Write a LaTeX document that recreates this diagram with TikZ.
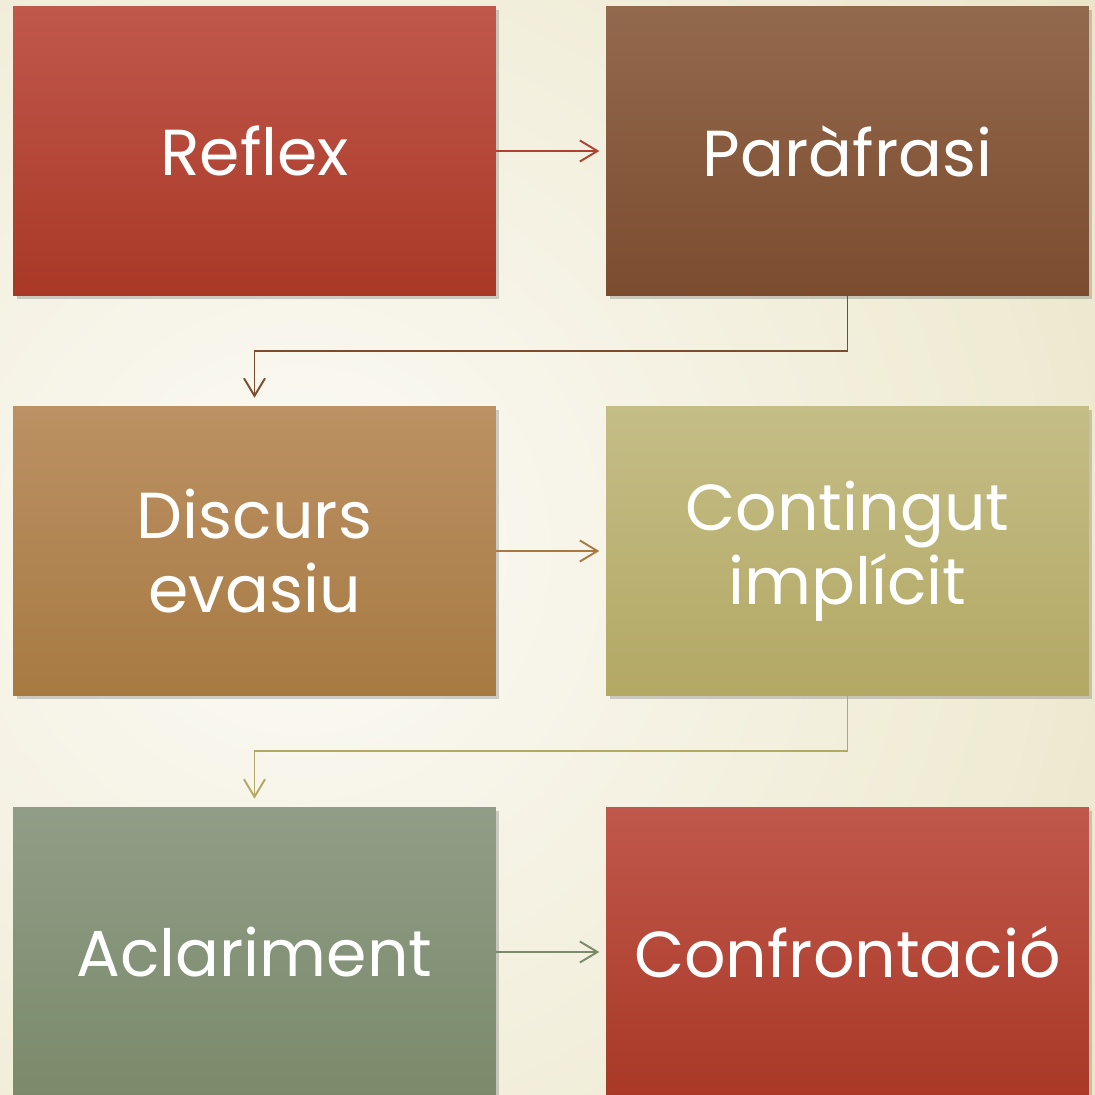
\documentclass[tikz,border=0pt]{standalone}
\usepackage{fontspec}
\setmainfont{Poppins}
\usetikzlibrary{arrows.meta,shadows}

\definecolor{reflexTop}{HTML}{C0584C}
\definecolor{reflexBot}{HTML}{A93826}
\definecolor{paraTop}{HTML}{93694E}
\definecolor{paraBot}{HTML}{7C4C2E}
\definecolor{discTop}{HTML}{BC9163}
\definecolor{discBot}{HTML}{A77A42}
\definecolor{contTop}{HTML}{C4BD86}
\definecolor{contBot}{HTML}{B3A864}
\definecolor{aclTop}{HTML}{909E87}
\definecolor{aclBot}{HTML}{7A8A6A}
\definecolor{bgIn}{HTML}{FCFBF6}
\definecolor{bgOut}{HTML}{EAE5C8}

\begin{document}
\begin{tikzpicture}[x=0.02cm, y=-0.02cm,
  box/.style 2 args={rectangle, minimum width=9.66cm, minimum height=5.8cm,
                     top color=#1, bottom color=#2, draw=none,
                     text=white, align=center,
                     font=\fontsize{37}{42}\selectfont,
                     drop shadow={shadow xshift=2pt, shadow yshift=-2pt,
                                  opacity=0.25, fill=black!70}},
  arr/.style={-{Straight Barb[length=10pt, width=12pt, line width=1.1pt]},
              line width=1.1pt}
]
  % fons
  \useasboundingbox (0,0) rectangle (1095,1095);
  \clip (0,0) rectangle (1095,1095);
  \shade[inner color=bgIn, outer color=bgOut] (300,550) circle (1000);
  % caixes
  \node[box={reflexTop}{reflexBot}] (reflex)  at (254.5,151) {Reflex};
  \node[box={paraTop}{paraBot}]     (parafr)  at (847.5,151) {Paràfrasi};
  \node[box={discTop}{discBot}]     (discurs) at (254.5,551) {Discurs\\evasiu};
  \node[box={contTop}{contBot}]     (conting) at (847.5,551) {Contingut\\implícit};
  \node[box={aclTop}{aclBot}]       (aclar)   at (254.5,952) {Aclariment};
  \node[box={reflexTop}{reflexBot}] (confr)   at (847.5,952) {Confrontació};
  % fletxes
  \draw[arr, reflexBot!95] (reflex.east) -- ++(103,0);
  \draw[arr, paraBot] (parafr.south) -- ++(0,55) -| ([yshift=0.16cm]discurs.north);
  \draw[arr, discBot] (discurs.east) -- ++(103,0);
  \draw[arr, contBot] (conting.south) -- ++(0,55) -| ([yshift=0.16cm]aclar.north);
  \draw[arr, aclBot] (aclar.east) -- ++(103,0);
\end{tikzpicture}
\end{document}
